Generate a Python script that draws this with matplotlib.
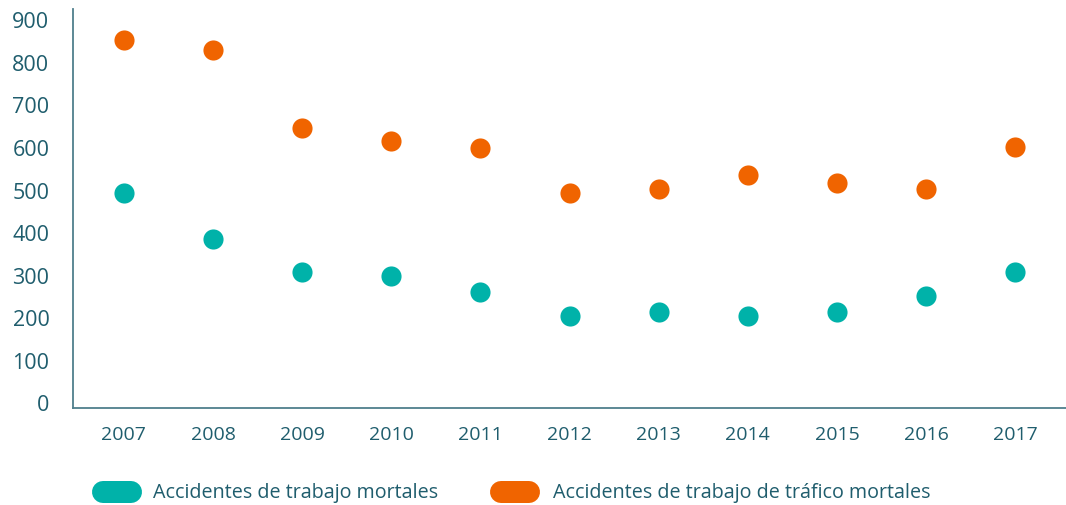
import matplotlib.pyplot as plt
from matplotlib.lines import Line2D

# Datos
anios = [2007, 2008, 2009, 2010, 2011, 2012, 2013, 2014, 2015, 2016, 2017]
trabajo = [492, 384, 307, 298, 260, 204, 213, 204, 213, 251, 307]
trafico = [851, 827, 644, 614, 598, 492, 502, 534, 516, 502, 600]
etiquetas = ['Accidentes de trabajo mortales',
             'Accidentes de trabajo de tráfico mortales']

teal = '#00B2A9'
naranja = '#F06400'
texto = '#1F5D6D'
eje = '#4F7F8C'

plt.rcParams['font.family'] = ['Open Sans', 'DejaVu Sans']

fig = plt.figure(figsize=(10.66, 5.06), dpi=100)
ax = fig.add_axes([73 / 1066, 97 / 506, 1 - 73 / 1066, 399 / 506])

ax.scatter(anios, trabajo, s=210, color=teal, zorder=3, linewidths=0)
ax.scatter(anios, trafico, s=210, color=naranja, zorder=3, linewidths=0)

ax.set_xlim(anios[0] - 0.57, anios[-1] + 0.57)
ax.set_ylim(-13, 924)
ax.set_xticks(anios)
ax.set_yticks(range(0, 901, 100))

ax.tick_params(axis='x', length=0, pad=12, labelsize=14, labelcolor=texto)
ax.tick_params(axis='y', length=0, pad=17, labelsize=15.5, labelcolor=texto)

for lado in ['top', 'right']:
    ax.spines[lado].set_visible(False)
for lado in ['left', 'bottom']:
    ax.spines[lado].set_color(eje)
    ax.spines[lado].set_linewidth(1.3)

# Leyenda con píldoras (línea gruesa con extremos redondeados)
W, H = 1066, 506
pildoras = [(92, 153), (490, 553)]
yl = 493
for (x0, xt), color, etiqueta in zip(pildoras, [teal, naranja], etiquetas):
    fig.lines.append(Line2D([(x0 + 11) / W, (x0 + 39) / W],
                            [(H - yl) / H, (H - yl) / H],
                            transform=fig.transFigure, color=color,
                            linewidth=22 * 0.72, solid_capstyle='round'))
    fig.text(xt / W, (H - yl) / H, etiqueta, color=texto, fontsize=14.2,
             va='center', ha='left')

plt.savefig('out.png', dpi=100)
